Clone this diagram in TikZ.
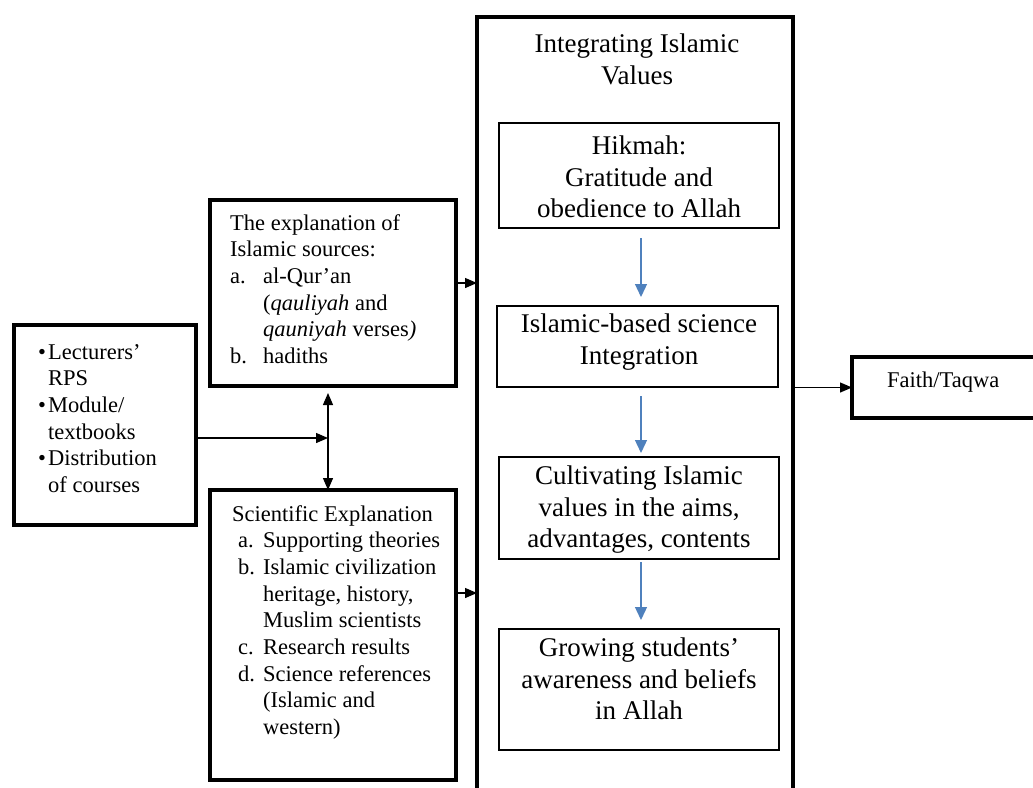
\documentclass[tikz,border=0pt]{standalone}
\usepackage{fontspec}
\setmainfont{Liberation Serif}
\usetikzlibrary{arrows.meta,calc}
\definecolor{arrblue}{HTML}{4F81BD}
\begin{document}
\begin{tikzpicture}[x=1pt,y=-1pt,
  thickbox/.style={draw,line width=4pt,inner sep=0pt,outer sep=0pt,anchor=north west},
  thinbox/.style={draw,line width=1.4pt,inner sep=0pt,outer sep=0pt,anchor=north west},
  smalltext/.style={inner sep=0pt,anchor=north west,align=left,font={\fontsize{22.5}{26.7}\selectfont}},
  bigtext/.style={inner sep=0pt,anchor=north,align=center,font={\fontsize{27}{31.5}\selectfont}},
  blk/.style={line width=1.3pt,-{Triangle[length=12pt,width=10pt]}},
  blkboth/.style={line width=1.3pt,{Triangle[length=12pt,width=10pt]}-{Triangle[length=12pt,width=10pt]}},
  blu/.style={arrblue,line width=1.3pt,-{Triangle[length=13pt,width=12pt]}}]
\path[use as bounding box,clip] (0,0) rectangle (1033,787);
\fill[white] (0,0) rectangle (1033,787);

% boxes
\node[thickbox,minimum width=182pt,minimum height=200pt] (left) at (14,325) {};
\node[thickbox,minimum width=246pt,minimum height=186pt] (isl) at (210,200) {};
\node[thickbox,minimum width=246pt,minimum height=290pt] (sci) at (210,490) {};
\node[thickbox,minimum width=316pt,minimum height=800pt] (big) at (477,17) {};
\node[thickbox,minimum width=200pt,minimum height=61pt] (faith) at (852,357) {};
\node[thinbox,minimum width=280pt,minimum height=105pt] (hik) at (499,123) {};
\node[thinbox,minimum width=281pt,minimum height=81pt] (ib) at (497,306) {};
\node[thinbox,minimum width=280pt,minimum height=102pt] (cult) at (499,457) {};
\node[thinbox,minimum width=280pt,minimum height=121pt] (grow) at (499,629) {};

% texts
\node[smalltext] (lefttxt) at (38,344) {\makebox[10pt][l]{\textbullet}Lecturers’\\\hspace*{10pt}RPS\\
\makebox[10pt][l]{\textbullet}Module/\\\hspace*{10pt}textbooks\\
\makebox[10pt][l]{\textbullet}Distribution\\\hspace*{10pt}of courses};
\node[smalltext] (isltxt) at (230,214) {The explanation of\\
Islamic sources:\\
\makebox[33pt][l]{a.}al-Qur’an\\
\hspace*{33pt}(\textit{qauliyah} and\\
\hspace*{33pt}\textit{qauniyah} verses\textit{)}\\
\makebox[33pt][l]{b.}hadiths};
\node[smalltext] (scitxt) at (232,505) {Scientific Explanation\\
\hspace*{6pt}\makebox[25pt][l]{a.}Supporting theories\\
\hspace*{6pt}\makebox[25pt][l]{b.}Islamic civilization\\
\hspace*{31pt}heritage, history,\\
\hspace*{31pt}Muslim scientists\\
\hspace*{6pt}\makebox[25pt][l]{c.}Research results\\
\hspace*{6pt}\makebox[25pt][l]{d.}Science references\\
\hspace*{31pt}(Islamic and\\
\hspace*{31pt}western)};
\node[smalltext] (faithtxt) at (887,372) {Faith/Taqwa};
\node[bigtext] (title) at (637,34) {Integrating Islamic\\Values};
\node[bigtext] (hiktxt) at (639,136) {Hikmah:\\Gratitude and\\obedience to Allah};
\node[bigtext] (ibtxt) at (639,314) {Islamic-based science\\Integration};
\node[bigtext] (culttxt) at (639,466) {Cultivating Islamic\\values in the aims,\\advantages, contents};
\node[bigtext] (growtxt) at (639,638) {Growing students’\\awareness and beliefs\\in Allah};

% connectors
\coordinate (J) at (328,438);
\draw[blk] (J -| left.east) -- (J);
\draw[blkboth] ([yshift=-7pt]isl.south -| J) -- (sci.north -| J);
\draw[blk] ([yshift=10pt]isl.east) -- ([yshift=10pt]isl.east -| big.west);
\draw[blk] ([yshift=42pt]sci.east) -- ([yshift=42pt]sci.east -| big.west);
\draw[blk] (faith.west -| big.east) -- (faith.west);
\draw[blu,shorten <=10pt,shorten >=9pt] ([xshift=2pt]hik.south) -- ([xshift=2pt]hik.south |- ib.north);
\draw[blu,shorten <=9pt,shorten >=4pt] ([xshift=2pt]cult.north |- ib.south) -- ([xshift=2pt]cult.north);
\draw[blu,shorten <=3pt,shorten >=9pt] ([xshift=2pt]cult.south) -- ([xshift=2pt]grow.north);
\end{tikzpicture}
\end{document}
